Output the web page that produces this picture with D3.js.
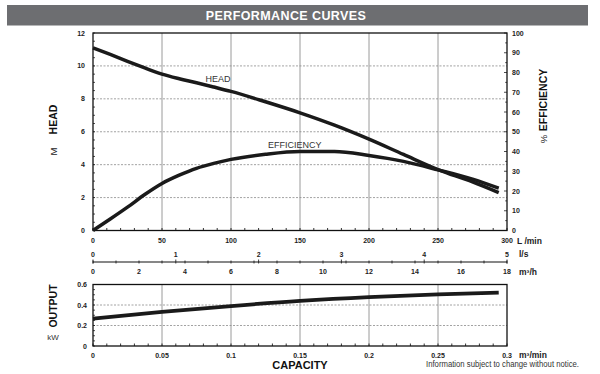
<!DOCTYPE html>
<html><head><meta charset="utf-8">
<script src="https://cdn.jsdelivr.net/npm/d3@7"></script>
<style>
body{margin:0;background:#fff;}
svg{display:block;font-family:"Liberation Sans",Arial,sans-serif;}
</style></head>
<body>
<svg id="c" width="600" height="374"></svg>
<script>
// ---- data ----
const flowLmin = [0, 12.5, 25, 37.5, 50, 62.5, 75, 87.5, 100, 125, 150, 175, 200, 225, 250, 275, 294];
const headM    = [11.1, 10.7, 10.28, 9.88, 9.5, 9.22, 8.98, 8.72, 8.45, 7.82, 7.15, 6.4, 5.55, 4.62, 3.7, 2.95, 2.3];
const effPct   = [0, 5.8, 11.8, 18.2, 23.8, 28, 31.5, 34, 36, 38.6, 40, 40, 38, 35, 30.7, 26, 21.4];
const capM3min = [0, 0.05, 0.1, 0.15, 0.2, 0.25, 0.294];
const outputKW = [0.268, 0.332, 0.39, 0.44, 0.477, 0.503, 0.52];
const headTicks = [0, 2, 4, 6, 8, 10, 12];
const effTicks = [0,10,20,30,40,50,60,70,80,90,100];
const lminTicks = [0,50,100,150,200,250,300];
const lsTicks = [0,1,2,3,4,5];
const m3hTicks = [0,2,4,6,8,10,12,14,16,18];
const kwTicks = [0, 0.2, 0.4, 0.6];
const m3minTicks = [0, 0.05, 0.1, 0.15, 0.2, 0.25, 0.3];
const m3minLabels = ["0","0.05","0.1","0.15","0.2","0.25","0.3"];

const svg = d3.select("#c");
const L = 93, R = 507;
const T1 = 33, B1 = 230.5;
const T2 = 284.5, B2 = 346;

// title banner
svg.append("rect").attr("x",7).attr("y",5).attr("width",581).attr("height",20.5).attr("fill","#6d6e71");
svg.append("text").attr("x",286).attr("y",19.8).attr("text-anchor","middle")
  .attr("fill","#fff").attr("font-weight","bold").attr("font-size",12.5).attr("letter-spacing",0.4)
  .text("PERFORMANCE CURVES");

// scales
const x = d3.scaleLinear().domain([0,300]).range([L,R]);
const yH = d3.scaleLinear().domain([0,12]).range([B1,T1]);
const yE = d3.scaleLinear().domain([0,100]).range([B1,T1]);
const xls = d3.scaleLinear().domain([0,5]).range([L,R]);
const xm3h = d3.scaleLinear().domain([0,18]).range([L,R]);
const xc = d3.scaleLinear().domain([0,0.3]).range([L,R]);
const yK = d3.scaleLinear().domain([0,0.6]).range([B2,T2]);

const tickFont = 7;
const gTop = svg.append("g");
gTop.selectAll(".vg").data(lminTicks.slice(1,-1)).join("line")
  .attr("x1",d=>x(d)).attr("x2",d=>x(d)).attr("y1",T1).attr("y2",B1)
  .attr("stroke","#9a9a9a").attr("stroke-width",1);
gTop.selectAll(".hg").data(headTicks.slice(1,-1)).join("line")
  .attr("x1",L).attr("x2",R).attr("y1",d=>yH(d)).attr("y2",d=>yH(d))
  .attr("stroke","#8a8a8a").attr("stroke-width",0.8).attr("stroke-dasharray","2,1.5");
gTop.selectAll(".mt").data(d3.range(0,301,10)).join("line")
  .attr("x1",d=>x(d)).attr("x2",d=>x(d)).attr("y1",B1).attr("y2",B1-2.5)
  .attr("stroke","#000").attr("stroke-width",0.8);
gTop.selectAll(".ml").data(d3.range(0,12.01,0.5)).join("line")
  .attr("x1",L).attr("x2",L+2).attr("y1",d=>yH(d)).attr("y2",d=>yH(d))
  .attr("stroke","#000").attr("stroke-width",0.7);
gTop.selectAll(".mr").data(d3.range(0,100.1,5)).join("line")
  .attr("x1",R).attr("x2",(d)=> R - (d%10===0?3:1.8)).attr("y1",d=>yE(d)).attr("y2",d=>yE(d))
  .attr("stroke","#000").attr("stroke-width",0.7);
gTop.append("rect").attr("x",L).attr("y",T1).attr("width",R-L).attr("height",B1-T1)
  .attr("fill","none").attr("stroke","#111").attr("stroke-width",1.3);

gTop.selectAll(".hl").data(headTicks).join("text")
  .attr("x",L-8).attr("y",d=>yH(d)+2.5).attr("text-anchor","end")
  .attr("font-size",tickFont).attr("font-weight","bold").attr("fill","#222").text(d=>d);
gTop.selectAll(".el").data(effTicks).join("text")
  .attr("x",R+5).attr("y",d=>yE(d)+2.5).attr("text-anchor","start")
  .attr("font-size",tickFont).attr("font-weight","bold").attr("fill","#222").text(d=>d);
gTop.selectAll(".xl").data(lminTicks).join("text")
  .attr("x",d=>x(d)).attr("y",243).attr("text-anchor","middle")
  .attr("font-size",tickFont).attr("font-weight","bold").attr("fill","#222").text(d=>d);
svg.append("text").attr("x",517).attr("y",243.5).attr("font-size",8.5).attr("font-weight","bold").attr("fill","#222").text("L /min");

const lineH = d3.line().x((d,i)=>x(flowLmin[i])).y(d=>yH(d)).curve(d3.curveMonotoneX);
const lineE = d3.line().x((d,i)=>x(flowLmin[i])).y(d=>yE(d)).curve(d3.curveMonotoneX);
gTop.append("path").attr("d",lineE(effPct)).attr("fill","none").attr("stroke","#1a1a1a").attr("stroke-width",3.5);
gTop.append("path").attr("d",lineH(headM)).attr("fill","none").attr("stroke","#1a1a1a").attr("stroke-width",3.5);
svg.append("text").attr("x",205.5).attr("y",81.5).attr("font-size",9).attr("fill","#333").text("HEAD");
svg.append("text").attr("x",268).attr("y",148.3).attr("font-size",9).attr("fill","#333").text("EFFICIENCY");

svg.append("text").attr("transform","translate(56.5,119.5) rotate(-90)").attr("text-anchor","middle")
  .attr("font-size",10.5).attr("font-weight","bold").attr("fill","#111").text("HEAD");
svg.append("text").attr("transform","translate(56.5,151.5) rotate(-90)").attr("text-anchor","middle")
  .attr("font-size",9.5).attr("fill","#222").text("M");
svg.append("text").attr("transform","translate(547,100) rotate(-90)").attr("text-anchor","middle")
  .attr("font-size",10.5).attr("font-weight","bold").attr("fill","#111").text("EFFICIENCY");
svg.append("text").attr("transform","translate(546.5,139) rotate(-90)").attr("text-anchor","middle")
  .attr("font-size",9.5).attr("fill","#222").text("%");

const yLine = 262;
svg.append("line").attr("x1",L).attr("x2",R).attr("y1",yLine).attr("y2",yLine).attr("stroke","#111").attr("stroke-width",1.2);
svg.selectAll(".t3").data(d3.range(0,18.01,1)).join("line")
  .attr("x1",d=>xm3h(d)).attr("x2",d=>xm3h(d)).attr("y1",yLine-1.5).attr("y2",yLine+1.5)
  .attr("stroke","#111").attr("stroke-width",0.8);
svg.selectAll(".t4").data(lsTicks).join("line")
  .attr("x1",d=>xls(d)).attr("x2",d=>xls(d)).attr("y1",yLine-2.5).attr("y2",yLine+1.5)
  .attr("stroke","#111").attr("stroke-width",0.8);
svg.selectAll(".lsl").data(lsTicks).join("text")
  .attr("x",d=>xls(d)).attr("y",256.7).attr("text-anchor","middle")
  .attr("font-size",tickFont).attr("font-weight","bold").attr("fill","#222").text(d=>d);
svg.selectAll(".m3l").data(m3hTicks).join("text")
  .attr("x",d=>xm3h(d)).attr("y",274.2).attr("text-anchor","middle")
  .attr("font-size",tickFont).attr("font-weight","bold").attr("fill","#222").text(d=>d);
svg.append("text").attr("x",519).attr("y",257).attr("font-size",8.5).attr("font-weight","bold").attr("fill","#222").text("l/s");
svg.append("text").attr("x",519).attr("y",274.5).attr("font-size",8.5).attr("font-weight","bold").attr("fill","#222").text("m³/h");

const gB = svg.append("g");
gB.selectAll(".vg").data(m3minTicks.slice(1,-1)).join("line")
  .attr("x1",d=>xc(d)).attr("x2",d=>xc(d)).attr("y1",T2).attr("y2",B2)
  .attr("stroke","#9a9a9a").attr("stroke-width",1);
gB.selectAll(".hg").data(kwTicks.slice(1,-1)).join("line")
  .attr("x1",L).attr("x2",R).attr("y1",d=>yK(d)).attr("y2",d=>yK(d))
  .attr("stroke","#8a8a8a").attr("stroke-width",0.8).attr("stroke-dasharray","2,1.5");
gB.selectAll(".mt").data(d3.range(0,0.3001,0.01)).join("line")
  .attr("x1",d=>xc(d)).attr("x2",d=>xc(d)).attr("y1",B2).attr("y2",B2-2.5)
  .attr("stroke","#000").attr("stroke-width",0.8);
gB.selectAll(".ml").data(d3.range(0,0.6001,0.05)).join("line")
  .attr("x1",L).attr("x2",L+2).attr("y1",d=>yK(d)).attr("y2",d=>yK(d))
  .attr("stroke","#000").attr("stroke-width",0.7);
gB.append("rect").attr("x",L).attr("y",T2).attr("width",R-L).attr("height",B2-T2)
  .attr("fill","none").attr("stroke","#111").attr("stroke-width",1.3);
const lineK = d3.line().x((d,i)=>xc(capM3min[i])).y(d=>yK(d)).curve(d3.curveMonotoneX);
gB.append("path").attr("d",lineK(outputKW)).attr("fill","none").attr("stroke","#1a1a1a").attr("stroke-width",3.8);
gB.selectAll(".kl").data(kwTicks).join("text")
  .attr("x",L-6).attr("y",d=>yK(d)+2.5).attr("text-anchor","end")
  .attr("font-size",tickFont).attr("font-weight","bold").attr("fill","#222").text(d=>d);
gB.selectAll(".cl").data(m3minTicks).join("text")
  .attr("x",d=>xc(d)).attr("y",357.5).attr("text-anchor","middle")
  .attr("font-size",tickFont).attr("font-weight","bold").attr("fill","#222").text((d,i)=>m3minLabels[i]);
svg.append("text").attr("x",519).attr("y",358).attr("font-size",8.5).attr("font-weight","bold").attr("fill","#222").text("m³/min");
svg.append("text").attr("transform","translate(56.5,306) rotate(-90)").attr("text-anchor","middle")
  .attr("font-size",10.5).attr("font-weight","bold").attr("fill","#111").text("OUTPUT");
svg.append("text").attr("x",53).attr("y",340).attr("text-anchor","middle")
  .attr("font-size",8).attr("fill","#333").text("kW");
svg.append("text").attr("x",300).attr("y",368.5).attr("text-anchor","middle")
  .attr("font-size",11).attr("font-weight","bold").attr("fill","#111").text("CAPACITY");
svg.append("text").attr("x",426).attr("y",366.5).attr("font-size",8.5).attr("fill","#333")
  .attr("textLength",153).attr("lengthAdjust","spacingAndGlyphs").text("Information subject to change without notice.");
</script>
</body></html>
